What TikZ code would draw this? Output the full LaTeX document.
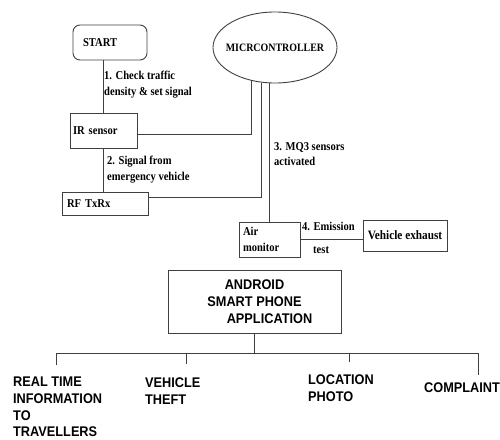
\documentclass[tikz,border=0pt]{standalone}
\usepackage{fontspec}
\setmainfont{Liberation Serif}
\newfontfamily\labelfont[FakeStretch=0.88]{Liberation Serif}
\newfontfamily\capsfont[FakeStretch=0.91]{Liberation Sans}
\usetikzlibrary{shapes.geometric}
\tikzset{
  blk/.style={draw=black!75, line width=0.9pt, inner sep=0pt},
  wire/.style={draw=black!75, line width=0.9pt},
  small/.style={font=\labelfont\bfseries\fontsize{12}{15.5}\selectfont, align=left, inner sep=0pt},
  big/.style={font=\capsfont\bfseries\fontsize{14}{16.7}\selectfont, align=left, inner sep=0pt},
}
\begin{document}
\begin{tikzpicture}[x=1pt,y=-1pt]
  \useasboundingbox (0,0) rectangle (500,439);
  % blocks of the upper part
  \node[blk, small, rounded corners=7pt, minimum width=74pt, minimum height=35pt,
        text width=54pt, inner xsep=10pt] (start) at (110,42.5) {START};
  \node[blk, small, minimum width=67pt, minimum height=35pt,
        text width=61pt, inner xsep=3pt] (ir) at (103.5,130.5) {IR sensor};
  \node[blk, small, minimum width=82pt, minimum height=23pt,
        text width=76pt, inner xsep=5pt] (rf) at (105,203.5) {RF TxRx};
  \node[blk, ellipse, minimum width=124pt, minimum height=71pt,
        label={[font=\labelfont\bfseries\fontsize{11.3}{12}\selectfont]center:MICRCONTROLLER}] (mc) at (275,47.5) {};
  \node[blk, small, minimum width=59pt, minimum height=35pt,
        text width=53pt, inner xsep=4pt] (air) at (269.5,239.5) {Air\\monitor};
  \node[blk, small, font=\labelfont\bfseries\fontsize{12.8}{15.5}\selectfont, align=center,
        minimum width=84pt, minimum height=31pt] (vex) at (405,235.5) {Vehicle exhaust};
  % links
  \draw[wire] (ir.north) -- (ir.north |- start.south);
  \draw[wire] (ir.south) -- (ir.south |- rf.north);
  \draw[wire] ([yshift=-3.5pt]ir.east) -| (mc.235);
  \draw[wire] ([yshift=6.5pt]rf.east) -| (mc.249.5);
  \draw[wire] (air.north) -- (air.north |- mc.south);
  \draw[wire] (air.east) -- (air.east -| vex.west);
  % link labels
  \node[small, anchor=north west] (l1) at (104,71) {1. Check traffic\\density \& set signal};
  \node[small, anchor=north west] (l2) at (107,156) {2. Signal from\\emergency vehicle};
  \node[small, anchor=north west] (l3) at (274,142) {3. MQ3 sensors\\activated};
  \node[small, anchor=north west] (l4) at (302,222) {4. Emission};
  \node[small, anchor=north west] (l4b) at (313,247) {test};
  % phone application and its branches
  \node[blk, big, align=center, minimum width=173pt,
        minimum height=63pt] (app) at (254.5,301.5) {ANDROID\\SMART PHONE\\\hspace*{30pt}APPLICATION};
  \node[big, anchor=north west] (rt) at (13,377) {REAL TIME\\INFORMATION\\TO\\TRAVELLERS};
  \node[big, anchor=north west] (vt) at (145,378) {VEHICLE\\THEFT};
  \node[big, anchor=north west] (lp) at (308,375) {LOCATION\\PHOTO};
  \node[big, anchor=north west] (cp) at (424,383) {COMPLAINT};
  \draw[wire] (app.south) -- ++(0,20) coordinate (bus);
  \coordinate (d1) at (56,365);
  \coordinate (d2) at (186,364);
  \coordinate (d3) at (349,362);
  \coordinate (d4) at (478,375);
  \draw[wire] (d1 |- bus) -- (d4 |- bus);
  \foreach \d in {d1,d2,d3,d4}
    \draw[wire] (\d |- bus) -- (\d);
\end{tikzpicture}
\end{document}
